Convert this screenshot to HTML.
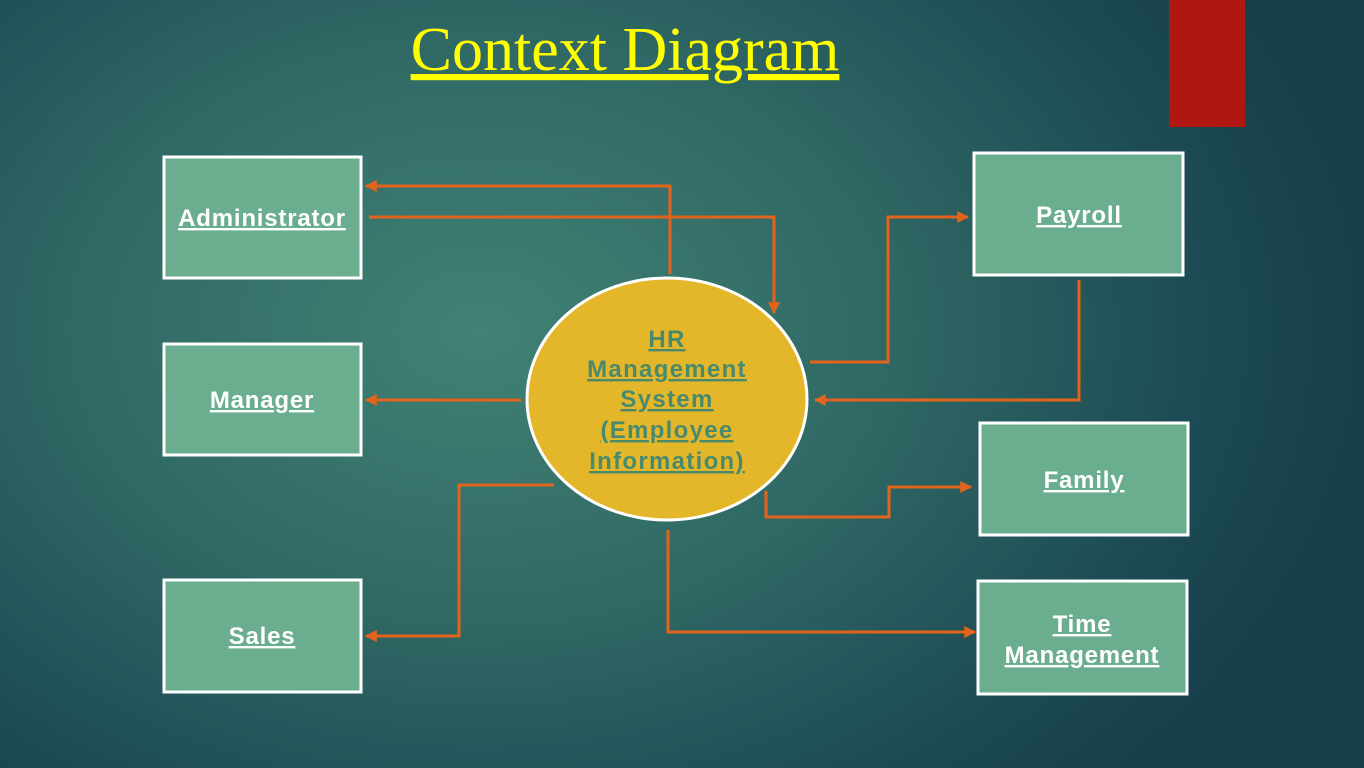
<!DOCTYPE html>
<html><head><meta charset="utf-8"><style>
html,body{margin:0;padding:0}
body{width:1364px;height:768px;overflow:hidden;background:radial-gradient(ellipse 900px 650px at 480px 330px,#418275 0%,#2f6864 45%,#1d4b55 80%,#163d4a 100%);font-family:"Liberation Sans",sans-serif}
svg{position:absolute;left:0;top:0}
</style></head><body>
<svg width="1364" height="768" viewBox="0 0 1364 768">
<defs>
<marker id="a" viewBox="0 0 10 10" refX="9" refY="5" markerWidth="4" markerHeight="4" orient="auto"><path d="M0,0L10,5L0,10z" fill="#e2641c"/></marker>
</defs>
<rect x="1169" y="0" width="76" height="127" fill="#b01712"/>
<text x="625" y="70" text-anchor="middle" font-family="Liberation Serif,serif" font-size="62" fill="#ffff00" text-decoration="underline">Context Diagram</text>
<g fill="#6aad8f" stroke="#fff" stroke-width="3">
<rect x="164" y="157" width="197" height="121"/>
<rect x="164" y="344" width="197" height="111"/>
<rect x="164" y="580" width="197" height="112"/>
<rect x="974" y="153" width="209" height="122"/>
<rect x="980" y="423" width="208" height="112"/>
<rect x="978" y="581" width="209" height="113"/>
</g>
<ellipse cx="667" cy="399" rx="140" ry="121" fill="#e4b72a" stroke="#fff" stroke-width="3"/>
<g fill="none" stroke="#e2641c" stroke-width="3" marker-end="url(#a)">
<path d="M670,274V186H366"/>
<path d="M369,217H774V313"/>
<path d="M810,362H888V217H968"/>
<path d="M1079,280V400H815"/>
<path d="M521,400H366"/>
<path d="M554,485H459V636H366"/>
<path d="M766,491V517H889V487H971"/>
<path d="M668,530V632H975"/>
</g>
<g font-weight="bold" font-size="24" letter-spacing="0.8" fill="#fff" text-anchor="middle" text-decoration="underline">
<text x="262" y="226">Administrator</text>
<text x="262" y="408">Manager</text>
<text x="262" y="644">Sales</text>
<text x="1079" y="223">Payroll</text>
<text x="1084" y="488">Family</text>
<text x="1082" y="632">Time</text>
<text x="1082" y="663">Management</text>
</g>
<g font-weight="bold" font-size="24" letter-spacing="1.3" fill="#4a8a6c" text-anchor="middle" text-decoration="underline">
<text x="667" y="347">HR</text>
<text x="667" y="377">Management</text>
<text x="667" y="407">System</text>
<text x="667" y="438">(Employee</text>
<text x="667" y="469">Information)</text>
</g>
</svg>
</body></html>
